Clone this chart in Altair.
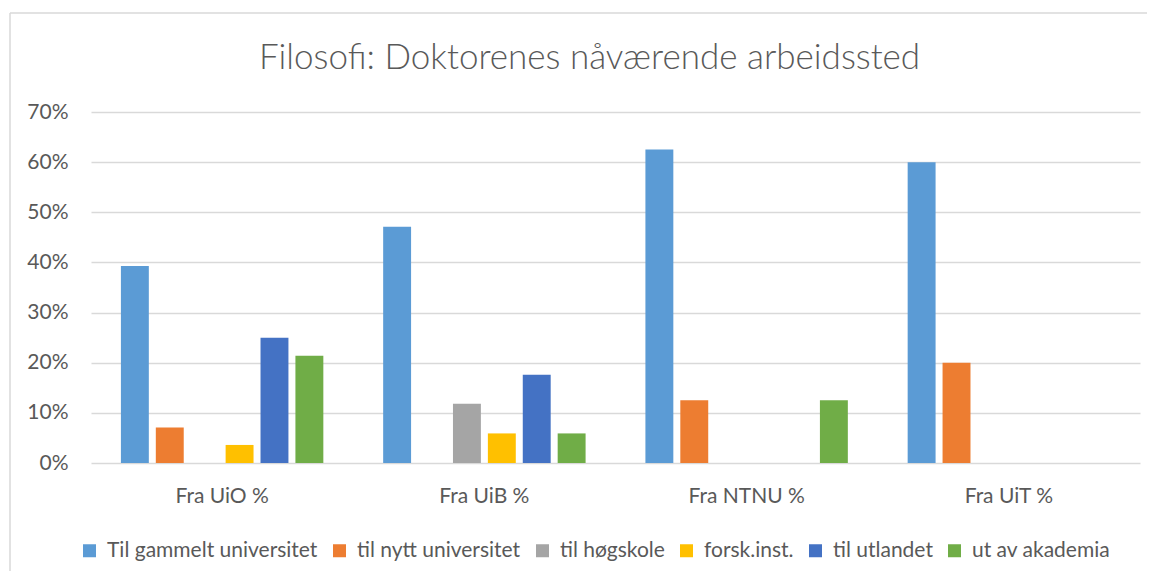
import altair as alt
import pandas as pd

groups = ["Fra UiO %", "Fra UiB %", "Fra NTNU %", "Fra UiT %"]
series = ["Til gammelt universitet", "til nytt universitet", "til høgskole",
          "forsk.inst.", "til utlandet", "ut av akademia"]
colors = ["#5B9BD5", "#ED7D31", "#A5A5A5", "#FFC000", "#4472C4", "#70AD47"]

uio = [0.393, 0.071, 0.0, 0.036, 0.25, 0.214]
uib = [0.471, 0.0, 0.118, 0.059, 0.176, 0.059]
ntnu = [0.625, 0.125, 0.0, 0.0, 0.0, 0.125]
uit = [0.60, 0.20, 0.0, 0.0, 0.0, 0.0]

rows = []
for g, vals in zip(groups, [uio, uib, ntnu, uit]):
    for s, v in zip(series, vals):
        rows.append({"group": g, "series": s, "value": v})
df = pd.DataFrame(rows)

FONT = "Lato"
TXT = "#595959"
FS = 21

bars = alt.Chart(df).mark_bar().encode(
    x=alt.X("group:N", sort=groups,
            scale=alt.Scale(paddingInner=0, paddingOuter=0),
            axis=alt.Axis(title=None, labelAngle=0, domain=False, ticks=False,
                          labelPadding=22, labelFontSize=FS, labelColor=TXT,
                          labelFont=FONT, grid=False)),
    xOffset=alt.XOffset("series:N", sort=series,
                        scale=alt.Scale(paddingInner=0.2, paddingOuter=0.857)),
    y=alt.Y("value:Q",
            scale=alt.Scale(domain=[0, 0.7], nice=False),
            axis=alt.Axis(title=None, format=".0%", values=[0, 0.1, 0.2, 0.3, 0.4, 0.5, 0.6, 0.7],
                          domain=False, ticks=False, labelPadding=23,
                          labelFontSize=FS, labelColor=TXT, labelFont=FONT,
                          gridColor="#D9D9D9", gridWidth=1.3)),
    color=alt.Color("series:N", sort=series,
                    scale=alt.Scale(domain=series, range=colors),
                    legend=alt.Legend(title=None, orient="none", direction="horizontal",
                                      columns=6, legendX=-12, legendY=428,
                                      symbolType="square", symbolSize=169,
                                      symbolStrokeWidth=0, labelFontSize=FS,
                                      labelFont=FONT, labelColor=TXT,
                                      labelOffset=7, columnPadding=11,
                                      labelLimit=400)),
)

frame_data = alt.Data(values=[{}])
left_line = alt.Chart(frame_data).mark_rule(color="#D9D9D9", strokeWidth=1.5).encode(
    x=alt.value(-81), y=alt.value(-99), y2=alt.value(459))
top_line = alt.Chart(frame_data).mark_rule(color="#D9D9D9", strokeWidth=1.5).encode(
    x=alt.value(-81), x2=alt.value(1056), y=alt.value(-99))

chart = alt.layer(left_line, top_line, bars).properties(
    width=1049, height=351,
    autosize=alt.AutoSizeParams(type="none"),
    padding={"left": 83, "top": 104, "right": 7, "bottom": 108},
    background="white",
    title=alt.Title("Filosofi: Doktorenes nåværende arbeidssted", font=FONT,
                    fontSize=35, fontWeight=300, color=TXT, anchor="middle",
                    baseline="alphabetic", dx=-26, offset=-92),
).configure_view(stroke=None)

chart.save("out.html", embed_options={"renderer": "svg", "actions": False})
